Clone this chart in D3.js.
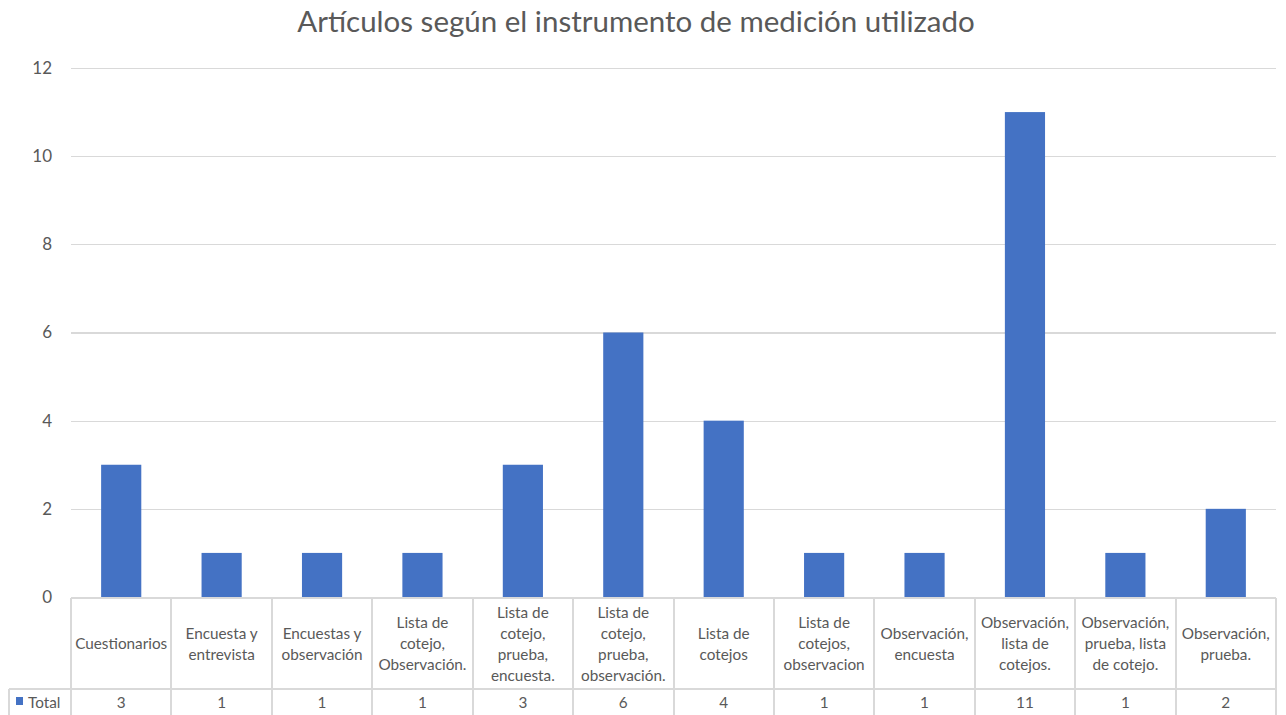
<!DOCTYPE html>
<html lang="es">
<head>
  <meta charset="utf-8">
  <script src="https://d3js.org/d3.v7.min.js"></script>
  <style>
    body {
      margin: 0;
      background: #fff;
      font-family: Lato, "Noto Sans", sans-serif;
    }
    .grid line {
      stroke: #d9d9d9;
      stroke-width: 1.3px;
      shape-rendering: crispEdges;
    }
    .tbl line {
      stroke: #d9d9d9;
      stroke-width: 2px;
      shape-rendering: crispEdges;
    }
    text {
      fill: #595959;
    }
  </style>
</head>
<body>
<div id="chart"></div>
<script>
  var title = "Artículos según el instrumento de medición utilizado";
  var categories = [
    "Cuestionarios",
    "Encuesta y entrevista",
    "Encuestas y observación",
    "Lista de cotejo, Observación.",
    "Lista de cotejo, prueba, encuesta.",
    "Lista de cotejo, prueba, observación.",
    "Lista de cotejos",
    "Lista de cotejos, observacion",
    "Observación, encuesta",
    "Observación, lista de cotejos.",
    "Observación, prueba, lista de cotejo.",
    "Observación, prueba."
  ];
  var seriesName = "Total";
  var totals = [3, 1, 1, 1, 3, 6, 4, 1, 1, 11, 1, 2];
  var yTicks = [0, 2, 4, 6, 8, 10, 12];

  var W = 1286, H = 715;
  var plotLeft = 71, plotRight = 1276, plotTop = 68, zero = 597;
  var rowMid = 689, rowEnd = 716, legendLeft = 9;

  var svg = d3.select("#chart").append("svg")
          .attr("width", W)
          .attr("height", H);

  var x = d3.scaleBand().domain(categories).range([plotLeft, plotRight]);
  var y = d3.scaleLinear().domain([0, 12]).range([zero, plotTop]);

  svg.append("text")
          .attr("x", 636)
          .attr("y", 32)
          .attr("text-anchor", "middle")
          .style("font-size", "29.5px")
          .text(title);

  // gridlines + y labels
  var yAxis = d3.axisLeft(y).tickValues(yTicks).tickSize(-(plotRight - plotLeft)).tickPadding(19);
  var gY = svg.append("g")
          .attr("class", "grid")
          .attr("transform", "translate(" + plotLeft + ",0)")
          .call(yAxis);
  gY.select(".domain").remove();
  gY.selectAll("text")
          .style("font-size", "17px")
          .style("font-family", "Lato, sans-serif")
          .attr("fill", "#595959");

  // bars
  var bw = x.bandwidth() * 0.4;
  svg.selectAll("rect.bar")
          .data(totals)
          .enter().append("rect")
          .attr("class", "bar")
          .attr("x", function (d, i) { return x(categories[i]) + (x.bandwidth() - bw) / 2; })
          .attr("y", function (d) { return y(d); })
          .attr("width", bw)
          .attr("height", function (d) { return y(0) - y(d); })
          .attr("fill", "#4472c4");

  // data table
  var tbl = svg.append("g").attr("class", "tbl");
  tbl.append("line").attr("x1", plotLeft).attr("x2", plotRight).attr("y1", zero + 1).attr("y2", zero + 1);
  tbl.append("line").attr("x1", legendLeft).attr("x2", plotRight).attr("y1", rowMid).attr("y2", rowMid);
  tbl.append("line").attr("x1", legendLeft).attr("x2", legendLeft).attr("y1", rowMid).attr("y2", rowEnd);
  tbl.selectAll("line.v")
          .data(categories.concat(["end"]))
          .enter().append("line")
          .attr("class", "v")
          .attr("x1", function (d, i) { return i < categories.length ? x(d) : plotRight; })
          .attr("x2", function (d, i) { return i < categories.length ? x(d) : plotRight; })
          .attr("y1", zero + 1)
          .attr("y2", rowEnd);

  var maxW = x.bandwidth() - 6;
  var lh = 21;
  var fs = "15.3px";
  categories.forEach(function (c, i) {
    var t = tbl.append("text")
            .attr("x", x(c) + x.bandwidth() / 2)
            .attr("text-anchor", "middle")
            .style("font-size", fs);
    // wrap on measured width
    var words = c.split(" "), lines = [], cur = "";
    var probe = t.append("tspan");
    words.forEach(function (w) {
      var test = cur ? cur + " " + w : w;
      probe.text(test);
      if (cur && probe.node().getComputedTextLength() > maxW) {
        lines.push(cur);
        cur = w;
      } else {
        cur = test;
      }
    });
    lines.push(cur);
    probe.remove();
    var y0 = (zero + rowMid) / 2 - (lines.length - 1) * lh / 2 + 6;
    lines.forEach(function (l, k) {
      t.append("tspan")
              .attr("x", x(c) + x.bandwidth() / 2)
              .attr("y", y0 + k * lh)
              .text(l);
    });
  });

  tbl.selectAll("text.val")
          .data(totals)
          .enter().append("text")
          .attr("class", "val")
          .attr("x", function (d, i) { return x(categories[i]) + x.bandwidth() / 2; })
          .attr("y", 708)
          .attr("text-anchor", "middle")
          .style("font-size", fs)
          .text(function (d) { return d; });

  tbl.append("rect")
          .attr("x", 16).attr("y", 697)
          .attr("width", 7).attr("height", 8)
          .attr("fill", "#4472c4");
  tbl.append("text")
          .attr("x", 28).attr("y", 708)
          .style("font-size", fs)
          .text(seriesName);
</script>
</body>
</html>
